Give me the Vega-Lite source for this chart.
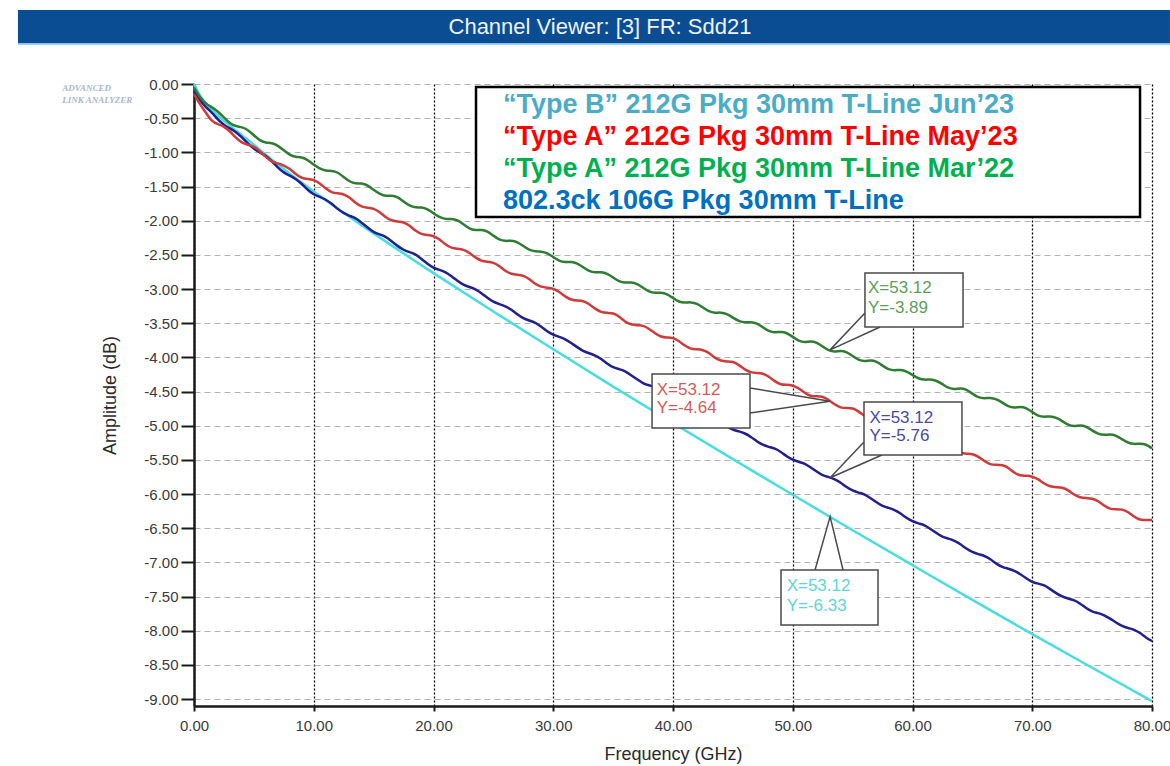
{
"$schema":"https://vega.github.io/schema/vega-lite/v6.json",
"width":958,"height":622,
"autosize":{"type":"none"},
"padding":{"left":194,"top":84,"right":18,"bottom":60},
"background":"#ffffff",
"config":{"view":{"stroke":null},"font":"Liberation Sans",
 "axisX":{"grid":true,"gridColor":"#000000","gridDash":[2,2],"gridWidth":1.3,"gridOpacity":1,"domainColor":"#1a1a1a","domainWidth":2.5,"tickColor":"#1a1a1a","tickWidth":2,"tickSize":5,"labelFont":"Liberation Sans","labelFontSize":15,"labelColor":"#3a3a3a","labelPadding":7,"labelFlush":false,"labelOverlap":false,"titleFont":"Liberation Sans","titleFontSize":18,"titleFontWeight":"normal","titleColor":"#2a2a2a","titlePadding":12},
 "axisY":{"grid":true,"gridColor":"#b3b3b3","gridDash":[6,4],"gridWidth":1.2,"gridOpacity":1,"domainColor":"#1a1a1a","domainWidth":2.5,"tickColor":"#1a1a1a","tickWidth":2,"tickSize":13,"labelFont":"Liberation Sans","labelFontSize":15,"labelColor":"#3a3a3a","labelPadding":3,"labelOverlap":false,"labelFlush":false,"titleFont":"Liberation Sans","titleFontSize":18,"titleFontWeight":"normal","titleColor":"#2a2a2a","titlePadding":24}
},
"datasets":{
"band":[{"x1":-14.7,"x2":81.5,"y1":1.083,"y2":0.6}],
"bandline":[{"x1":-14.7,"x2":81.5,"y1":0.6,"y2":0.575}],
"bandtitle":[{"x":33.9,"y":0.84,"t":"Channel Viewer: [3] FR: Sdd21"}],
"logo":[{"x":-11.0,"y":-0.06,"t":"ADVANCED"},{"x":-11.0,"y":-0.24,"t":"LINK ANALYZER"}],
"curves":[
{"f":0,"g":-0.05,"r":-0.15,"b":-0.10,"c":0},
{"f":0.5,"g":-0.20,"r":-0.30,"b":-0.24,"c":-0.18},
{"f":1,"g":-0.29,"r":-0.42,"b":-0.34,"c":-0.29},
{"f":1.5,"g":-0.34,"r":-0.55,"b":-0.42,"c":-0.38},
{"f":2,"g":-0.40,"r":-0.59,"b":-0.52,"c":-0.46},
{"f":2.5,"g":-0.49,"r":-0.62,"b":-0.60,"c":-0.54},
{"f":3,"g":-0.58,"r":-0.69,"b":-0.65,"c":-0.61},
{"f":3.5,"g":-0.62,"r":-0.79,"b":-0.70,"c":-0.68},
{"f":4,"g":-0.63,"r":-0.86,"b":-0.78,"c":-0.75},
{"f":4.5,"g":-0.67,"r":-0.89,"b":-0.87,"c":-0.82},
{"f":5,"g":-0.75,"r":-0.91,"b":-0.95,"c":-0.89},
{"f":5.5,"g":-0.83,"r":-0.98,"b":-1.00},
{"f":6,"g":-0.86,"r":-1.07,"b":-1.05},
{"f":6.5,"g":-0.86,"r":-1.14,"b":-1.13},
{"f":7,"g":-0.90,"r":-1.16,"b":-1.22},
{"f":7.5,"g":-0.97,"r":-1.19,"b":-1.30,"c":-1.25},
{"f":8,"g":-1.04,"r":-1.24,"b":-1.34},
{"f":8.5,"g":-1.07,"r":-1.32,"b":-1.39},
{"f":9,"g":-1.07,"r":-1.38,"b":-1.46},
{"f":9.5,"g":-1.11,"r":-1.39,"b":-1.55},
{"f":10,"g":-1.18,"r":-1.40,"b":-1.62,"c":-1.58},
{"f":10.5,"g":-1.24,"r":-1.45,"b":-1.65},
{"f":11,"g":-1.27,"r":-1.53,"b":-1.69},
{"f":11.5,"g":-1.27,"r":-1.59,"b":-1.75},
{"f":12,"g":-1.29,"r":-1.60,"b":-1.83},
{"f":12.5,"g":-1.36,"r":-1.61,"b":-1.89},
{"f":13,"g":-1.43,"r":-1.66,"b":-1.93},
{"f":13.5,"g":-1.46,"r":-1.74,"b":-1.96},
{"f":14,"g":-1.45,"r":-1.80,"b":-2.03},
{"f":14.5,"g":-1.48,"r":-1.81,"b":-2.10},
{"f":15,"g":-1.55,"r":-1.82,"b":-2.17,"c":-2.19},
{"f":15.5,"g":-1.61,"r":-1.87,"b":-2.20},
{"f":16,"g":-1.64,"r":-1.95,"b":-2.23},
{"f":16.5,"g":-1.63,"r":-2.00,"b":-2.30},
{"f":17,"g":-1.65,"r":-2.01,"b":-2.37},
{"f":17.5,"g":-1.72,"r":-2.02,"b":-2.43},
{"f":18,"g":-1.78,"r":-2.07,"b":-2.46},
{"f":18.5,"g":-1.81,"r":-2.15,"b":-2.49},
{"f":19,"g":-1.80,"r":-2.20,"b":-2.56},
{"f":19.5,"g":-1.83,"r":-2.21,"b":-2.63},
{"f":20,"g":-1.89,"r":-2.22,"b":-2.69,"c":-2.77},
{"f":20.5,"g":-1.95,"r":-2.27,"b":-2.72},
{"f":21,"g":-1.98,"r":-2.35,"b":-2.75},
{"f":21.5,"g":-1.97,"r":-2.40,"b":-2.81},
{"f":22,"g":-1.99,"r":-2.41,"b":-2.88},
{"f":22.5,"g":-2.05,"r":-2.42,"b":-2.94},
{"f":23,"g":-2.12,"r":-2.47,"b":-2.97},
{"f":23.5,"g":-2.14,"r":-2.54,"b":-3.00},
{"f":24,"g":-2.13,"r":-2.59,"b":-3.06},
{"f":24.5,"g":-2.15,"r":-2.60,"b":-3.13},
{"f":25,"g":-2.22,"r":-2.61,"b":-3.19,"c":-3.33},
{"f":25.5,"g":-2.28,"r":-2.66,"b":-3.22},
{"f":26,"g":-2.30,"r":-2.74,"b":-3.25},
{"f":26.5,"g":-2.29,"r":-2.78,"b":-3.30},
{"f":27,"g":-2.31,"r":-2.79,"b":-3.37},
{"f":27.5,"g":-2.37,"r":-2.80,"b":-3.43},
{"f":28,"g":-2.43,"r":-2.85,"b":-3.46},
{"f":28.5,"g":-2.45,"r":-2.93,"b":-3.49},
{"f":29,"g":-2.45,"r":-2.97,"b":-3.55},
{"f":29.5,"g":-2.47,"r":-2.98,"b":-3.62},
{"f":30,"g":-2.53,"r":-2.99,"b":-3.67,"c":-3.88},
{"f":30.5,"g":-2.59,"r":-3.04,"b":-3.70},
{"f":31,"g":-2.61,"r":-3.11,"b":-3.73},
{"f":31.5,"g":-2.60,"r":-3.16,"b":-3.79},
{"f":32,"g":-2.62,"r":-3.17,"b":-3.85},
{"f":32.5,"g":-2.68,"r":-3.17,"b":-3.91},
{"f":33,"g":-2.74,"r":-3.22,"b":-3.94},
{"f":33.5,"g":-2.76,"r":-3.29,"b":-3.97},
{"f":34,"g":-2.75,"r":-3.34,"b":-4.02},
{"f":34.5,"g":-2.77,"r":-3.35,"b":-4.09},
{"f":35,"g":-2.83,"r":-3.35,"b":-4.15,"c":-4.43},
{"f":35.5,"g":-2.89,"r":-3.40,"b":-4.17},
{"f":36,"g":-2.91,"r":-3.48,"b":-4.20},
{"f":36.5,"g":-2.90,"r":-3.52,"b":-4.26},
{"f":37,"g":-2.92,"r":-3.53,"b":-4.32},
{"f":37.5,"g":-2.98,"r":-3.53,"b":-4.38},
{"f":38,"g":-3.04,"r":-3.58,"b":-4.41},
{"f":38.5,"g":-3.06,"r":-3.65,"b":-4.43},
{"f":39,"g":-3.05,"r":-3.70,"b":-4.49},
{"f":39.5,"g":-3.07,"r":-3.71,"b":-4.56},
{"f":40,"g":-3.13,"r":-3.71,"b":-4.61,"c":-4.96},
{"f":40.5,"g":-3.19,"r":-3.76,"b":-4.64},
{"f":41,"g":-3.20,"r":-3.83,"b":-4.66},
{"f":41.5,"g":-3.19,"r":-3.88,"b":-4.72},
{"f":42,"g":-3.21,"r":-3.88,"b":-4.78},
{"f":42.5,"g":-3.27,"r":-3.89,"b":-4.84},
{"f":43,"g":-3.33,"r":-3.93,"b":-4.86},
{"f":43.5,"g":-3.35,"r":-4.01,"b":-4.89},
{"f":44,"g":-3.34,"r":-4.05,"b":-4.94},
{"f":44.5,"g":-3.36,"r":-4.06,"b":-5.01},
{"f":45,"g":-3.42,"r":-4.06,"b":-5.06,"c":-5.49},
{"f":45.5,"g":-3.47,"r":-4.11,"b":-5.08},
{"f":46,"g":-3.49,"r":-4.18,"b":-5.11},
{"f":46.5,"g":-3.48,"r":-4.22,"b":-5.16},
{"f":47,"g":-3.50,"r":-4.23,"b":-5.23},
{"f":47.5,"g":-3.56,"r":-4.23,"b":-5.28},
{"f":48,"g":-3.62,"r":-4.28,"b":-5.31},
{"f":48.5,"g":-3.64,"r":-4.35,"b":-5.33},
{"f":49,"g":-3.62,"r":-4.40,"b":-5.38},
{"f":49.5,"g":-3.64,"r":-4.40,"b":-5.45},
{"f":50,"g":-3.70,"r":-4.41,"b":-5.50,"c":-6.01},
{"f":50.5,"g":-3.76,"r":-4.45,"b":-5.53},
{"f":51,"g":-3.78,"r":-4.52,"b":-5.55},
{"f":51.5,"g":-3.76,"r":-4.57,"b":-5.61},
{"f":52,"g":-3.78,"r":-4.57,"b":-5.67},
{"f":52.5,"g":-3.84,"r":-4.57,"b":-5.73},
{"f":53,"g":-3.90,"r":-4.62,"b":-5.75},
{"f":53.5,"g":-3.92,"r":-4.69,"b":-5.78},
{"f":54,"g":-3.90,"r":-4.74,"b":-5.83},
{"f":54.5,"g":-3.92,"r":-4.74,"b":-5.90},
{"f":55,"g":-3.98,"r":-4.74,"b":-5.95,"c":-6.53},
{"f":55.5,"g":-4.04,"r":-4.79,"b":-5.98},
{"f":56,"g":-4.06,"r":-4.86,"b":-6.00},
{"f":56.5,"g":-4.04,"r":-4.90,"b":-6.06},
{"f":57,"g":-4.06,"r":-4.91,"b":-6.12},
{"f":57.5,"g":-4.12,"r":-4.91,"b":-6.18},
{"f":58,"g":-4.18,"r":-4.95,"b":-6.20},
{"f":58.5,"g":-4.19,"r":-5.03,"b":-6.23},
{"f":59,"g":-4.18,"r":-5.07,"b":-6.28},
{"f":59.5,"g":-4.20,"r":-5.07,"b":-6.35},
{"f":60,"g":-4.26,"r":-5.08,"b":-6.40,"c":-7.04},
{"f":60.5,"g":-4.31,"r":-5.12,"b":-6.43},
{"f":61,"g":-4.33,"r":-5.19,"b":-6.45},
{"f":61.5,"g":-4.32,"r":-5.24,"b":-6.51},
{"f":62,"g":-4.34,"r":-5.24,"b":-6.57},
{"f":62.5,"g":-4.39,"r":-5.24,"b":-6.63},
{"f":63,"g":-4.45,"r":-5.29,"b":-6.65},
{"f":63.5,"g":-4.47,"r":-5.36,"b":-6.68},
{"f":64,"g":-4.45,"r":-5.40,"b":-6.73},
{"f":64.5,"g":-4.47,"r":-5.41,"b":-6.80},
{"f":65,"g":-4.53,"r":-5.41,"b":-6.85,"c":-7.55},
{"f":65.5,"g":-4.59,"r":-5.45,"b":-6.88},
{"f":66,"g":-4.60,"r":-5.52,"b":-6.90},
{"f":66.5,"g":-4.59,"r":-5.57,"b":-6.95},
{"f":67,"g":-4.61,"r":-5.57,"b":-7.02},
{"f":67.5,"g":-4.66,"r":-5.57,"b":-7.07},
{"f":68,"g":-4.72,"r":-5.61,"b":-7.09},
{"f":68.5,"g":-4.74,"r":-5.69,"b":-7.12},
{"f":69,"g":-4.72,"r":-5.73,"b":-7.17},
{"f":69.5,"g":-4.74,"r":-5.73,"b":-7.23},
{"f":70,"g":-4.80,"r":-5.74,"b":-7.29,"c":-8.05},
{"f":70.5,"g":-4.86,"r":-5.78,"b":-7.31},
{"f":71,"g":-4.87,"r":-5.85,"b":-7.33},
{"f":71.5,"g":-4.86,"r":-5.89,"b":-7.39},
{"f":72,"g":-4.88,"r":-5.90,"b":-7.45},
{"f":72.5,"g":-4.93,"r":-5.90,"b":-7.50},
{"f":73,"g":-4.99,"r":-5.94,"b":-7.53},
{"f":73.5,"g":-5.01,"r":-6.01,"b":-7.55},
{"f":74,"g":-4.99,"r":-6.05,"b":-7.60},
{"f":74.5,"g":-5.01,"r":-6.06,"b":-7.67},
{"f":75,"g":-5.07,"r":-6.06,"b":-7.72,"c":-8.54},
{"f":75.5,"g":-5.12,"r":-6.10,"b":-7.74},
{"f":76,"g":-5.14,"r":-6.17,"b":-7.77},
{"f":76.5,"g":-5.12,"r":-6.22,"b":-7.82},
{"f":77,"g":-5.14,"r":-6.22,"b":-7.88},
{"f":77.5,"g":-5.20,"r":-6.22,"b":-7.93},
{"f":78,"g":-5.25,"r":-6.26,"b":-7.96},
{"f":78.5,"g":-5.27,"r":-6.33,"b":-7.98},
{"f":79,"g":-5.26,"r":-6.38,"b":-8.03},
{"f":79.5,"g":-5.27,"r":-6.38,"b":-8.10},
{"f":80,"g":-5.33,"r":-6.38,"b":-8.15,"c":-9.03}
],
"wedges":[
{"w":"g","o":1,"x":56.03,"y":-3.35},{"w":"g","o":2,"x":53.12,"y":-3.89},{"w":"g","o":3,"x":57.29,"y":-3.555},
{"w":"r","o":1,"x":46.43,"y":-4.448},{"w":"r","o":2,"x":53.12,"y":-4.64},{"w":"r","o":3,"x":46.43,"y":-4.813},
{"w":"b","o":1,"x":55.95,"y":-5.238},{"w":"b","o":2,"x":53.12,"y":-5.76},{"w":"b","o":3,"x":57.45,"y":-5.428},
{"w":"c","o":1,"x":51.86,"y":-7.11},{"w":"c","o":2,"x":53.12,"y":-6.33},{"w":"c","o":3,"x":54.2,"y":-7.11}
],
"boxes":[
{"x1":56.03,"x2":64.22,"y1":-2.765,"y2":-3.555},
{"x1":38.25,"x2":46.43,"y1":-4.243,"y2":-5.033},
{"x1":55.95,"x2":64.13,"y1":-4.653,"y2":-5.428},
{"x1":49.02,"x2":57.12,"y1":-7.11,"y2":-7.915}
],
"calltext":[
{"x":56.28,"y":-2.985,"t":"X=53.12","k":"Tg"},{"x":56.28,"y":-3.277,"t":"Y=-3.89","k":"Tg"},
{"x":38.64,"y":-4.477,"t":"X=53.12","k":"Tr"},{"x":38.64,"y":-4.745,"t":"Y=-4.64","k":"Tr"},
{"x":56.4,"y":-4.891,"t":"X=53.12","k":"Tb"},{"x":56.4,"y":-5.15,"t":"Y=-5.76","k":"Tb"},
{"x":49.49,"y":-7.345,"t":"X=53.12","k":"Tc"},{"x":49.49,"y":-7.637,"t":"Y=-6.33","k":"Tc"}
],
"legendbox":[{"x1":23.55,"x2":79.0,"y1":-0.044,"y2":-1.946}],
"legend":[
{"x":25.8,"y":-0.307,"t":"“Type B” 212G Pkg 30mm T-Line Jun’23","k":"Lc"},
{"x":25.8,"y":-0.775,"t":"“Type A” 212G Pkg 30mm T-Line May’23","k":"Lr"},
{"x":25.8,"y":-1.243,"t":"“Type A” 212G Pkg 30mm T-Line Mar’22","k":"Lg"},
{"x":25.8,"y":-1.712,"t":"802.3ck 106G Pkg 30mm T-Line","k":"Lb"}
]
},
"layer":[
{"data":{"name":"curves"},
 "transform":[{"fold":["c","b","r","g"],"as":["s","v"]},{"filter":{"field":"v","valid":true}}],
 "mark":{"type":"line","strokeWidth":2.5,"interpolate":"basis"},
 "encoding":{
  "x":{"field":"f","type":"quantitative","scale":{"domain":[0,80],"nice":false},
   "axis":{"title":"Frequency (GHz)","values":[0,10,20,30,40,50,60,70,80],"tickCount":20,"format":".2f"}},
  "y":{"field":"v","type":"quantitative","scale":{"domain":[-9.1,0],"nice":false,"zero":false},
   "axis":{"title":"Amplitude (dB)","values":[-9,-8.5,-8,-7.5,-7,-6.5,-6,-5.5,-5,-4.5,-4,-3.5,-3,-2.5,-2,-1.5,-1,-0.5,0],"tickCount":30,"format":".2f","labelExpr":"replace(datum.label,'\u2212','-')"}},
  "color":{"field":"s","type":"nominal","legend":null,
   "scale":{"domain":["g","r","b","c","Lc","Lr","Lg","Lb","Tg","Tr","Tb","Tc"],
            "range":["#2e7d32","#d03a3a","#20208f","#48dede","#4bacc6","#ff0000","#00b050","#0070c0","#5c9e5c","#d25c5c","#4a4aa6","#5cd6d6"]}}
 }},
{"data":{"name":"band"},"mark":{"type":"rect","color":"#0b4d93"},
 "encoding":{"x":{"field":"x1","type":"quantitative","scale":{"domain":[0,80],"nice":false},"axis":{"title":"Frequency (GHz)","values":[0,10,20,30,40,50,60,70,80],"tickCount":20,"format":".2f"}},"x2":{"field":"x2"},
  "y":{"field":"y1","type":"quantitative","scale":{"domain":[-9.1,0],"nice":false,"zero":false},"axis":{"title":"Amplitude (dB)","values":[-9,-8.5,-8,-7.5,-7,-6.5,-6,-5.5,-5,-4.5,-4,-3.5,-3,-2.5,-2,-1.5,-1,-0.5,0],"tickCount":30,"format":".2f","labelExpr":"replace(datum.label,'\u2212','-')"}},"y2":{"field":"y2"}}},
{"data":{"name":"bandline"},"mark":{"type":"rect","color":"#86c3ea"},
 "encoding":{"x":{"field":"x1","type":"quantitative","scale":{"domain":[0,80],"nice":false},"axis":{"title":"Frequency (GHz)","values":[0,10,20,30,40,50,60,70,80],"tickCount":20,"format":".2f"}},"x2":{"field":"x2"},
  "y":{"field":"y1","type":"quantitative","scale":{"domain":[-9.1,0],"nice":false,"zero":false},"axis":{"title":"Amplitude (dB)","values":[-9,-8.5,-8,-7.5,-7,-6.5,-6,-5.5,-5,-4.5,-4,-3.5,-3,-2.5,-2,-1.5,-1,-0.5,0],"tickCount":30,"format":".2f","labelExpr":"replace(datum.label,'\u2212','-')"}},"y2":{"field":"y2"}}},
{"data":{"name":"bandtitle"},"mark":{"type":"text","align":"center","baseline":"middle","fontSize":22,"font":"Liberation Sans","color":"#eef3fa"},
 "encoding":{"x":{"field":"x","type":"quantitative","scale":{"domain":[0,80],"nice":false},"axis":{"title":"Frequency (GHz)","values":[0,10,20,30,40,50,60,70,80],"tickCount":20,"format":".2f"}},
  "y":{"field":"y","type":"quantitative","scale":{"domain":[-9.1,0],"nice":false,"zero":false},"axis":{"title":"Amplitude (dB)","values":[-9,-8.5,-8,-7.5,-7,-6.5,-6,-5.5,-5,-4.5,-4,-3.5,-3,-2.5,-2,-1.5,-1,-0.5,0],"tickCount":30,"format":".2f","labelExpr":"replace(datum.label,'\u2212','-')"}},"text":{"field":"t"}}},
{"data":{"name":"logo"},"mark":{"type":"text","align":"left","baseline":"middle","fontSize":9,"fontStyle":"italic","fontWeight":"bold","font":"Liberation Serif","color":"#a9b7c9"},
 "encoding":{"x":{"field":"x","type":"quantitative","scale":{"domain":[0,80],"nice":false},"axis":{"title":"Frequency (GHz)","values":[0,10,20,30,40,50,60,70,80],"tickCount":20,"format":".2f"}},
  "y":{"field":"y","type":"quantitative","scale":{"domain":[-9.1,0],"nice":false,"zero":false},"axis":{"title":"Amplitude (dB)","values":[-9,-8.5,-8,-7.5,-7,-6.5,-6,-5.5,-5,-4.5,-4,-3.5,-3,-2.5,-2,-1.5,-1,-0.5,0],"tickCount":30,"format":".2f","labelExpr":"replace(datum.label,'\u2212','-')"}},"text":{"field":"t"}}},
{"data":{"name":"wedges"},"mark":{"type":"line","stroke":"#4a4a4a","strokeWidth":1.5,"fill":"#ffffff"},
 "encoding":{"x":{"field":"x","type":"quantitative","scale":{"domain":[0,80],"nice":false},"axis":{"title":"Frequency (GHz)","values":[0,10,20,30,40,50,60,70,80],"tickCount":20,"format":".2f"}},
  "y":{"field":"y","type":"quantitative","scale":{"domain":[-9.1,0],"nice":false,"zero":false},"axis":{"title":"Amplitude (dB)","values":[-9,-8.5,-8,-7.5,-7,-6.5,-6,-5.5,-5,-4.5,-4,-3.5,-3,-2.5,-2,-1.5,-1,-0.5,0],"tickCount":30,"format":".2f","labelExpr":"replace(datum.label,'\u2212','-')"}},
  "detail":{"field":"w"},"order":{"field":"o","type":"quantitative"}}},
{"data":{"name":"boxes"},"mark":{"type":"rect","fill":"#ffffff","stroke":"#4a4a4a","strokeWidth":1.5},
 "encoding":{"x":{"field":"x1","type":"quantitative","scale":{"domain":[0,80],"nice":false},"axis":{"title":"Frequency (GHz)","values":[0,10,20,30,40,50,60,70,80],"tickCount":20,"format":".2f"}},"x2":{"field":"x2"},
  "y":{"field":"y1","type":"quantitative","scale":{"domain":[-9.1,0],"nice":false,"zero":false},"axis":{"title":"Amplitude (dB)","values":[-9,-8.5,-8,-7.5,-7,-6.5,-6,-5.5,-5,-4.5,-4,-3.5,-3,-2.5,-2,-1.5,-1,-0.5,0],"tickCount":30,"format":".2f","labelExpr":"replace(datum.label,'\u2212','-')"}},"y2":{"field":"y2"}}},
{"data":{"name":"calltext"},"mark":{"type":"text","align":"left","baseline":"middle","fontSize":17,"font":"Liberation Sans"},
 "encoding":{"x":{"field":"x","type":"quantitative","scale":{"domain":[0,80],"nice":false},"axis":{"title":"Frequency (GHz)","values":[0,10,20,30,40,50,60,70,80],"tickCount":20,"format":".2f"}},
  "y":{"field":"y","type":"quantitative","scale":{"domain":[-9.1,0],"nice":false,"zero":false},"axis":{"title":"Amplitude (dB)","values":[-9,-8.5,-8,-7.5,-7,-6.5,-6,-5.5,-5,-4.5,-4,-3.5,-3,-2.5,-2,-1.5,-1,-0.5,0],"tickCount":30,"format":".2f","labelExpr":"replace(datum.label,'\u2212','-')"}},
  "text":{"field":"t"},"color":{"field":"k","type":"nominal","legend":null}}},
{"data":{"name":"legendbox"},"mark":{"type":"rect","fill":"#ffffff","stroke":"#000000","strokeWidth":2.5},
 "encoding":{"x":{"field":"x1","type":"quantitative","scale":{"domain":[0,80],"nice":false},"axis":{"title":"Frequency (GHz)","values":[0,10,20,30,40,50,60,70,80],"tickCount":20,"format":".2f"}},"x2":{"field":"x2"},
  "y":{"field":"y1","type":"quantitative","scale":{"domain":[-9.1,0],"nice":false,"zero":false},"axis":{"title":"Amplitude (dB)","values":[-9,-8.5,-8,-7.5,-7,-6.5,-6,-5.5,-5,-4.5,-4,-3.5,-3,-2.5,-2,-1.5,-1,-0.5,0],"tickCount":30,"format":".2f","labelExpr":"replace(datum.label,'\u2212','-')"}},"y2":{"field":"y2"}}},
{"data":{"name":"legend"},"mark":{"type":"text","align":"left","baseline":"middle","fontSize":27,"fontWeight":"bold","font":"Liberation Sans"},
 "encoding":{"x":{"field":"x","type":"quantitative","scale":{"domain":[0,80],"nice":false},"axis":{"title":"Frequency (GHz)","values":[0,10,20,30,40,50,60,70,80],"tickCount":20,"format":".2f"}},
  "y":{"field":"y","type":"quantitative","scale":{"domain":[-9.1,0],"nice":false,"zero":false},"axis":{"title":"Amplitude (dB)","values":[-9,-8.5,-8,-7.5,-7,-6.5,-6,-5.5,-5,-4.5,-4,-3.5,-3,-2.5,-2,-1.5,-1,-0.5,0],"tickCount":30,"format":".2f","labelExpr":"replace(datum.label,'\u2212','-')"}},
  "text":{"field":"t"},"color":{"field":"k","type":"nominal","legend":null}}}
]
}
